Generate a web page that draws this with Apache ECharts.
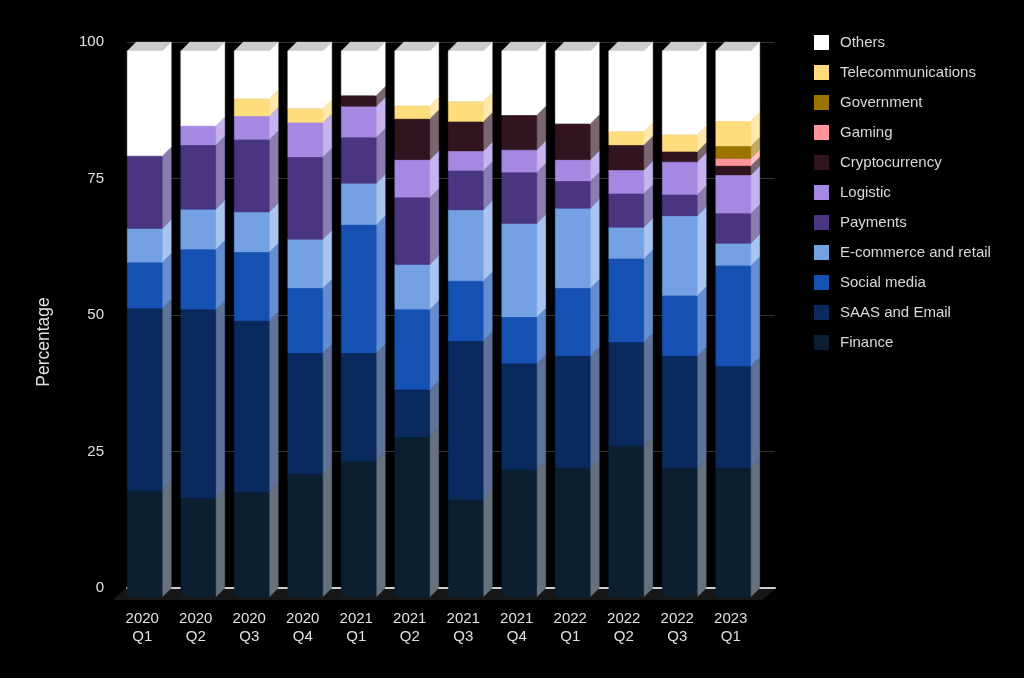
<!DOCTYPE html>
<html>
<head>
<meta charset="utf-8">
<style>html,body{margin:0;padding:0;background:#000}#c{width:1024px;height:678px}</style>
<script src="https://cdn.jsdelivr.net/npm/echarts@6/dist/echarts.min.js"></script>
</head>
<body>
<div id="c"></div>
<script>
const categories = ['2020\nQ1','2020\nQ2','2020\nQ3','2020\nQ4','2021\nQ1','2021\nQ2','2021\nQ3','2021\nQ4','2022\nQ1','2022\nQ2','2022\nQ3','2023\nQ1'];
const finance    = [19.4,18.1,19.2,22.5,24.9,29.3,17.8,23.3,23.6,27.7,23.6,23.6];
const saasEmail  = [33.5,34.6,31.4,22.2,19.8, 8.7,29.1,19.5,20.6,19.0,20.6,18.7];
const socialMedia= [ 8.4,11.0,12.6,11.9,23.5,14.7,11.0, 8.5,12.4,15.3,11.0,18.4];
const ecommerce  = [ 6.2, 7.3, 7.3, 8.9, 7.6, 8.2,13.0,17.1,14.6, 5.7,14.6, 4.1];
const payments   = [13.3,11.8,13.3,15.1, 8.4,12.3, 7.2, 9.4, 5.0, 6.2, 3.9, 5.5];
const logistic   = [ 0.0, 3.5, 4.3, 6.3, 5.7, 6.9, 3.6, 4.1, 3.9, 4.3, 6.0, 7.0];
const crypto_    = [ 0.0, 0.0, 0.0, 0.0, 2.0, 7.5, 5.4, 6.4, 6.6, 4.6, 1.9, 1.7];
const gaming     = [ 0.0, 0.0, 0.0, 0.0, 0.0, 0.0, 0.0, 0.0, 0.0, 0.0, 0.0, 1.3];
const government = [ 0.0, 0.0, 0.0, 0.0, 0.0, 0.0, 0.0, 0.0, 0.0, 0.0, 0.0, 2.3];
const telecom    = [ 0.0, 0.0, 3.2, 2.6, 0.0, 2.4, 3.7, 0.0, 0.0, 2.5, 3.1, 4.6];
const others     = [19.2,13.7, 8.7,10.5, 8.1,10.0, 9.2,11.7,13.3,14.7,15.3,12.8];
const yTicks = [0,25,50,75,100];

const seriesDefs = [
  ['Finance', finance, '#0c1f30', '#65727e'],
  ['SAAS and Email', saasEmail, '#0a2a5e', '#5f7298'],
  ['Social media', socialMedia, '#1550b3', '#658dd0'],
  ['E-commerce and retail', ecommerce, '#73a1e4', '#a9c5ef'],
  ['Payments', payments, '#4a3580', '#8b7db0'],
  ['Logistic', logistic, '#a588e2', '#c6b3ed'],
  ['Cryptocurrency', crypto_, '#311420', '#7a6670'],
  ['Gaming', gaming, '#ff9599', '#ffc4c6'],
  ['Government', government, '#9b7400', '#c4ab60'],
  ['Telecommunications', telecom, '#ffdc7c', '#ffe8ab'],
  ['Others', others, '#ffffff', '#ffffff']
];

const DEPTH = 9, HALF = 17.5, SHIFT = 2.5;
function shade(hex){
  const n = parseInt(hex.slice(1),16);
  const f = 0.8;
  return 'rgb('+Math.round((n>>16&255)*f)+','+Math.round((n>>8&255)*f)+','+Math.round((n&255)*f)+')';
}
const cum = categories.map(()=>0);
const barSeries = seriesDefs.map(([name, vals, color, side], si)=>{
  const data = vals.map((v,i)=>{ const s=cum[i]; cum[i]+=v; return [i,s,cum[i]]; });
  return {
    name, type:'custom', xAxisIndex:1, yAxisIndex:1, coordinateSystem:'cartesian2d',
    itemStyle:{color}, z:5+si, clip:false, data, encode:{x:0,y:[1,2]},
    renderItem(params, api){
      if (api.value(2)-api.value(1) <= 0) return null;
      const a = api.coord([api.value(0), api.value(1)]);
      const b = api.coord([api.value(0), api.value(2)]);
      const l = a[0]+SHIFT-HALF, r = a[0]+SHIFT+HALF;
      const y0 = a[1]+DEPTH, y1 = b[1]+DEPTH;
      const top = shade(color);
      return {type:'group', children:[
        {type:'polygon', shape:{points:[[l,y1],[l+DEPTH,y1-DEPTH],[r+DEPTH,y1-DEPTH],[r,y1]]}, style:{fill:top, stroke:top, lineWidth:0.4}},
        {type:'polygon', shape:{points:[[r-1,y0],[r,y0],[r+DEPTH,y0-DEPTH],[r+DEPTH,y1-DEPTH],[r,y1],[r-1,y1]]}, style:{fill:side, stroke:side, lineWidth:0.4}},
        {type:'rect', shape:{x:l,y:y1,width:r-l,height:y0-y1}, style:{fill:color, stroke:color, lineWidth:0.4}}
      ]};
    }
  };
});

const floorSeries = {
  type:'custom', xAxisIndex:0, yAxisIndex:0, z:2, silent:true, clip:false, data:[[0,0]], encode:{x:0,y:1},
  renderItem(params, api){
    const cs = params.coordSys, b = api.coord([0,0]);
    return {type:'polygon', shape:{points:[
      [cs.x-2,b[1]+1],[cs.x+cs.width,b[1]+1],[cs.x+cs.width-13,b[1]+12],[cs.x-14,b[1]+12]
    ]}, style:{fill:'#171717'}};
  }
};

const chart = echarts.init(document.getElementById('c'), null, {renderer:'canvas'});
chart.setOption({
  backgroundColor:'#000',
  animation:false,
  textStyle:{fontFamily:'"Liberation Sans", Arial, sans-serif'},
  legend:{
    orient:'vertical', left:814, top:35, padding:0, itemWidth:15, itemHeight:15, itemGap:15,
    icon:'rect', selectedMode:false,
    data:seriesDefs.map(d=>d[0]).reverse(),
    textStyle:{color:'#d9d9d9', fontSize:15, fontFamily:'"Liberation Sans", Arial, sans-serif', padding:[0,0,0,6]}
  },
  graphic:[{type:'text', x:44, y:342, rotation:Math.PI/2,
    style:{text:'Percentage', fill:'#e0e0e0', fontSize:17.5, fontFamily:'"Liberation Sans", Arial, sans-serif', align:'center', verticalAlign:'middle'}}],
  grid:[
    {left:127, width:648, top:42, height:546},
    {left:115.5, width:642, top:42, height:546}
  ],
  xAxis:[
    {gridIndex:0, type:'value', min:0, max:1, axisLabel:{show:false}, axisTick:{show:false}, splitLine:{show:false},
     axisLine:{show:true, lineStyle:{color:'#cfcfcf', width:2}}},
    {gridIndex:1, type:'category', data:categories, axisLine:{show:false}, axisTick:{show:false},
     axisLabel:{color:'#e0e0e0', fontSize:15, lineHeight:18, margin:22, interval:0}}
  ],
  yAxis:[
    {gridIndex:0, type:'value', min:yTicks[0], max:yTicks[4], interval:25,
     axisLine:{show:false}, axisTick:{show:false},
     axisLabel:{color:'#e0e0e0', fontSize:15, margin:23},
     splitLine:{show:true, lineStyle:{color:'#333', width:1}}},
    {gridIndex:1, type:'value', min:yTicks[0], max:yTicks[4], show:false, splitLine:{show:false}}
  ],
  series:[floorSeries, ...barSeries]
});
</script>
</body>
</html>
